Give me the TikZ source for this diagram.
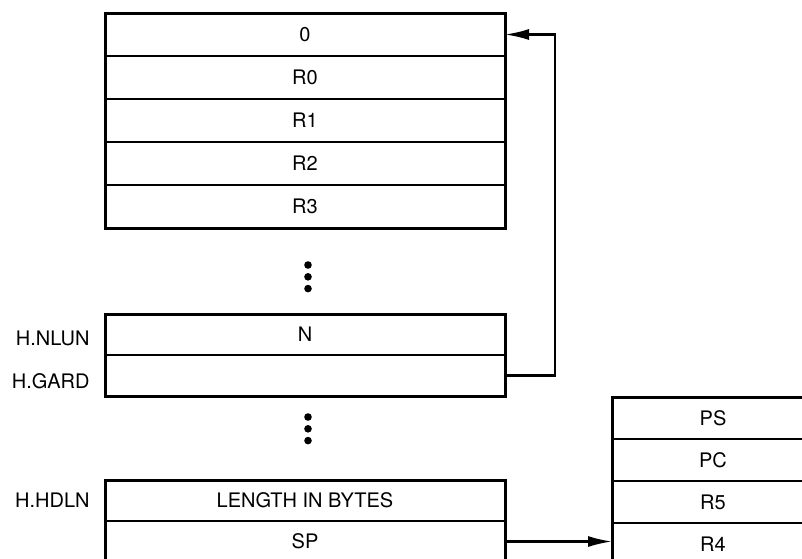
\documentclass[tikz,border=0pt]{standalone}
\usepackage{fontspec}
\setsansfont{TeX Gyre Heros}
\usetikzlibrary{arrows.meta,positioning}
\tikzset{cell/.style={draw, line width=1pt, minimum width=200pt, minimum height=21.5pt, inner sep=0pt, outer sep=0pt, font=\sffamily},
  tag/.style={font=\sffamily, inner sep=0pt},
  frame/.style={line width=1.5pt},
  link/.style={line width=1.1pt, -{Latex[length=12pt,width=5.5pt]}},
  bullet/.style={circle, fill, inner sep=0pt, minimum size=3.8pt}}

\begin{document}
\begin{tikzpicture}[font=\sffamily]
  \useasboundingbox (0,0) rectangle (401pt,-279pt);
  \clip (0,0) rectangle (401pt,-279pt);
  % saved registers
  \node[cell] (zero) at (152.5pt,-17.25pt) {0};
  \node[cell, below=0pt of zero] (r0) {R0};
  \node[cell, below=0pt of r0] (r1) {R1};
  \node[cell, below=0pt of r1] (r2) {R2};
  \node[cell, below=0pt of r2] (r3) {R3};
  \draw[frame] (zero.north west) rectangle (r3.south east);
  \node[bullet] (da1) at (154pt,-132.5pt) {};
  \node[bullet, below=1.7pt of da1] (da2) {};
  \node[bullet, below=1.7pt of da2] (da3) {};
  % unit words
  \node[cell, minimum height=20.5pt] (nlun) at (152.5pt,-167.25pt) {N};
  \node[cell, minimum height=20.5pt, below=0pt of nlun] (gard) {};
  \draw[frame] (nlun.north west) rectangle (gard.south east);
  \node[tag, left=7.5pt of nlun, yshift=-2pt] (tnlun) {H.NLUN};
  \node[tag, left=7.5pt of gard, yshift=-3pt] (tgard) {H.GARD};
  \node[bullet] (db1) at (154pt,-208.5pt) {};
  \node[bullet, below=1.7pt of db1] (db2) {};
  \node[bullet, below=1.7pt of db2] (db3) {};
  % header
  \node[cell, minimum height=20.5pt] (hdln) at (152.5pt,-250.25pt) {LENGTH IN BYTES};
  \node[cell, minimum height=20.5pt, below=0pt of hdln] (sp) {SP};
  \draw[frame] (hdln.north west) rectangle (sp.south east);
  \node[tag, left=7.5pt of hdln] (thdln) {H.HDLN};
  % stack
  \node[cell, minimum width=101pt, minimum height=21pt] (ps) at (356.5pt,-209pt) {PS};
  \node[cell, minimum width=101pt, minimum height=21pt, below=0pt of ps] (pc) {PC};
  \node[cell, minimum width=101pt, minimum height=21pt, below=0pt of pc] (r5) {R5};
  \node[cell, minimum width=101pt, minimum height=21pt, below=0pt of r5] (r4) {R4};
  \draw[frame] (ps.north west) rectangle (r4.south east);
  % pointers
  \draw[link] (gard.east) -- ++(25pt,0) |- (zero.east);
  \draw[link] (sp.east) -- (sp.east -| r4.west);
\end{tikzpicture}
\end{document}
